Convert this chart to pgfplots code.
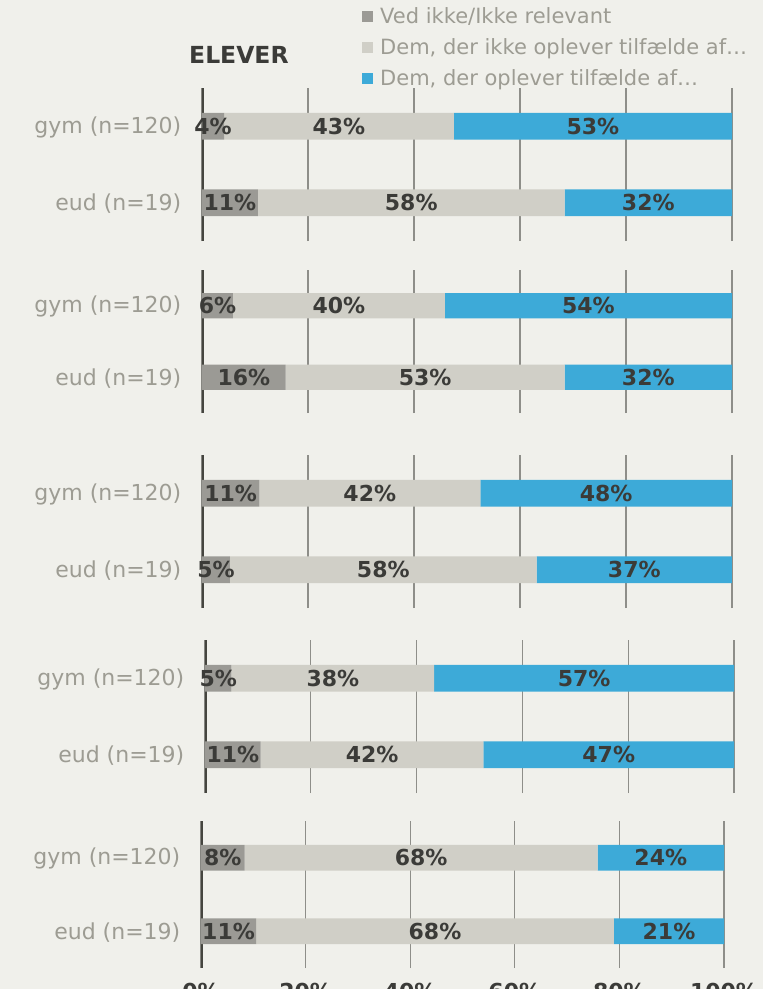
\documentclass[border=0pt]{standalone}
\usepackage{pgfplots}
\pgfplotsset{compat=1.18}
\usepackage{pgfplotstable}
\usepackage{fontspec}
\setmainfont{DejaVu Sans}
\definecolor{bg}{HTML}{F0F0EB}
\definecolor{segA}{HTML}{9B9A95}
\definecolor{segB}{HTML}{D0CFC7}
\definecolor{segC}{HTML}{3DAAD8}
\definecolor{valtxt}{HTML}{3B3B38}
\definecolor{cattxt}{HTML}{9D9C93}
\definecolor{gridc}{HTML}{8E8E89}
\definecolor{zeroc}{HTML}{45453F}

\newcommand{\catfont}{\fontsize{22}{26}\selectfont}
\newcommand{\legfont}{\fontsize{21}{25}\selectfont}
\newcommand{\valfont}{\fontsize{22}{26}\selectfont\bfseries}

% y=1 gym (n=120), y=0 eud (n=19); a = Ved ikke, b = ikke oplever, c = oplever
\pgfplotstableread{
y a b c la lb lc
1 4.17 43.33 52.5 4 43 53
0 10.53 57.89 31.58 11 58 32
}\tA
\pgfplotstableread{
y a b c la lb lc
1 5.83 40 54.17 6 40 54
0 15.79 52.63 31.58 16 53 32
}\tB
\pgfplotstableread{
y a b c la lb lc
1 10.83 41.67 47.5 11 42 48
0 5.26 57.89 36.84 5 58 37
}\tC
\pgfplotstableread{
y a b c la lb lc
1 5 38.33 56.67 5 38 57
0 10.53 42.11 47.37 11 42 47
}\tD
\pgfplotstableread{
y a b c la lb lc
1 8.33 67.5 24.17 8 68 24
0 10.53 68.42 21.05 11 68 21
}\tE

\pgfplotsset{
  panelbase/.style={
    xbar stacked, scale only axis, anchor=north west,
    xmin=0, xmax=100, ymin=-0.5, ymax=1.5,
    bar width=0.35,
  },
  panelbars/.style={
    panelbase,
    xtick={0,20,40,60,80,100}, xticklabels={},
    ytick={0,1}, yticklabels={eud (n=19),gym (n=120)},
    major tick length=0pt,
    xmajorgrids, grid style={gridc, line width=1.2pt},
    axis line style={draw=none},
    yticklabel style={font=\catfont, text=cattxt, anchor=east, inner sep=0pt, xshift=-20.5pt, yshift=-1pt},
  },
  panellab/.style={
    panelbase, hide axis, clip=false,
    point meta=explicit symbolic,
    nodes near coords={\pgfplotspointmeta\%},
    every node near coord/.append style={font=\valfont, text=valtxt, anchor=center, inner sep=0pt},
  },
  sqlegend/.style={
    legend image code/.code={\fill[##1] (0pt,-5.5pt) rectangle (11pt,5.5pt);},
  },
  toplegend/.style={
    sqlegend,
    legend style={at={(axis description cs:0.3019,1.538)}, anchor=north west,
      draw=none, fill=none, inner sep=0pt, font=\legfont, text=cattxt,
      row sep=9.5pt, column sep=5pt, cells={anchor=west}},
    legend cell align=left,
    legend entries={Ved ikke/Ikke relevant, {Dem, der ikke oplever tilfælde af…}, {Dem, der oplever tilfælde af…}},
  },
  bottomticks/.style={
    xticklabels={0\%,20\%,40\%,60\%,80\%,100\%},
    xticklabel style={font=\valfont, text=valtxt, anchor=north, inner sep=0pt, yshift=-15pt},
  },
}

\newcommand{\panel}[6]{%
  \begin{axis}[panelbars, at={(#1pt,-#2pt)}, width=#3pt, height=#4pt, #6]
    \addplot[fill=segA, draw=none] table[x=a, y=y] {#5};
    \addplot[fill=segB, draw=none] table[x=b, y=y] {#5};
    \addplot[fill=segC, draw=none] table[x=c, y=y] {#5};
    \draw[zeroc, line width=3.5pt] (axis cs:0,-0.5) -- (axis cs:0,1.5);
  \end{axis}
  \begin{axis}[panellab, at={(#1pt,-#2pt)}, width=#3pt, height=#4pt]
    \addplot[fill=none, draw=none] table[x=a, y=y, meta=la] {#5};
    \addplot[fill=none, draw=none] table[x=b, y=y, meta=lb] {#5};
    \addplot[fill=none, draw=none] table[x=c, y=y, meta=lc] {#5};
  \end{axis}%
}

\begin{document}
\begin{tikzpicture}[x=1pt, y=1pt]
  \fill[bg] (0,0) rectangle (763,-989);

  \node[anchor=base west, inner sep=0pt, text=valtxt, font=\fontsize{23.5}{28}\selectfont\bfseries] at (189pt,-63pt) {ELEVER};

  \panel{202}{88}{530}{153}{\tA}{toplegend}
  \panel{202}{270}{530}{143}{\tB}{}
  \panel{202}{455}{530}{153}{\tC}{}
  \panel{205}{640}{529}{153}{\tD}{}
  \panel{201}{821}{523}{147}{\tE}{bottomticks}

  \pgfresetboundingbox
  \useasboundingbox (0,0) rectangle (763,-989);
\end{tikzpicture}
\end{document}
